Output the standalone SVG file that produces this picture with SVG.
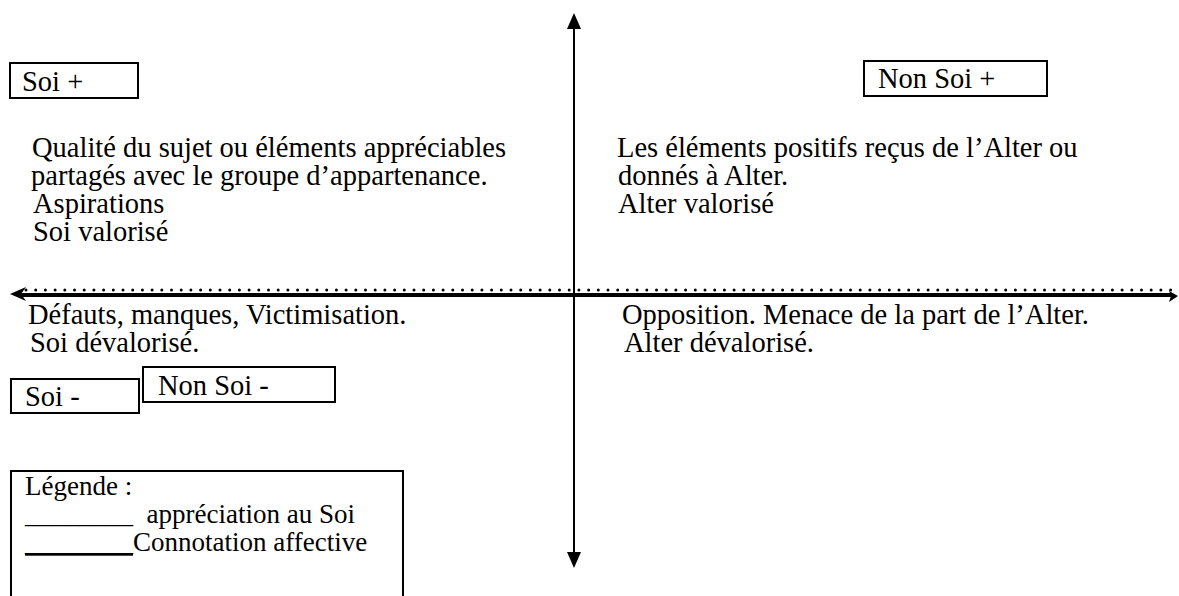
<svg xmlns="http://www.w3.org/2000/svg" width="1179" height="596" viewBox="0 0 1179 596">
<style>
text{font-family:"Liberation Serif","Times New Roman",serif;font-size:28.5px;fill:#000}
.leg{font-size:27px}
.box{fill:#fff;stroke:#000;stroke-width:2}
</style>
<rect width="1179" height="596" fill="#fff"/>
<g id="connectors">
<line x1="574" y1="27" x2="574" y2="554" stroke="#000" stroke-width="2"/>
<polygon points="574,13 567,29 581,29" fill="#000"/>
<polygon points="574,568 567,552 581,552" fill="#000"/>
<line x1="26" y1="290" x2="1179" y2="290" stroke="#000" stroke-width="3" stroke-linecap="round" stroke-dasharray="0 9.7"/>
<line x1="20" y1="295" x2="1172" y2="295" stroke="#000" stroke-width="4"/>
<path d="M10,294 L26,287 L21,294 L26,301 Z" fill="#000"/>
<path d="M1178,296 L1169,291 L1171,296 L1169,302 Z" fill="#000"/>
</g>
<g id="soi-plus"><rect class="box" x="10" y="63" width="128" height="35"/><text x="22" y="91">Soi +</text></g>
<g id="non-soi-plus"><rect class="box" x="864" y="61" width="183" height="35"/><text x="878" y="88">Non Soi +</text></g>
<g id="soi-minus"><rect class="box" x="11" y="379" width="128" height="34"/><text x="25" y="406">Soi -</text></g>
<g id="non-soi-minus"><rect class="box" x="143" y="367" width="192" height="35"/><text x="158" y="395">Non Soi -</text></g>
<g id="q-top-left">
<text x="32" y="157">Qualité du sujet ou éléments appréciables</text>
<text x="31" y="185">partagés avec le groupe d’appartenance.</text>
<text x="33" y="213">Aspirations</text>
<text x="33" y="241">Soi valorisé</text>
</g>
<g id="q-top-right">
<text x="617" y="157">Les éléments positifs reçus de l’Alter ou</text>
<text x="618" y="185">donnés à Alter.</text>
<text x="618" y="213">Alter valorisé</text>
</g>
<g id="q-bottom-left">
<text x="28" y="324">Défauts, manques, Victimisation.</text>
<text x="30" y="352">Soi dévalorisé.</text>
</g>
<g id="q-bottom-right">
<text x="622" y="324">Opposition. Menace de la part de l’Alter.</text>
<text x="624" y="352">Alter dévalorisé.</text>
</g>
<g id="legend">
<rect class="box" x="11" y="471" width="392" height="140"/>
<text class="leg" x="25" y="495">Légende :</text>
<text class="leg" x="25" y="523" xml:space="preserve">________  appréciation au Soi</text>
<text class="leg" x="25" y="551"><tspan text-decoration="underline">________</tspan>Connotation affective</text>
</g>
</svg>
